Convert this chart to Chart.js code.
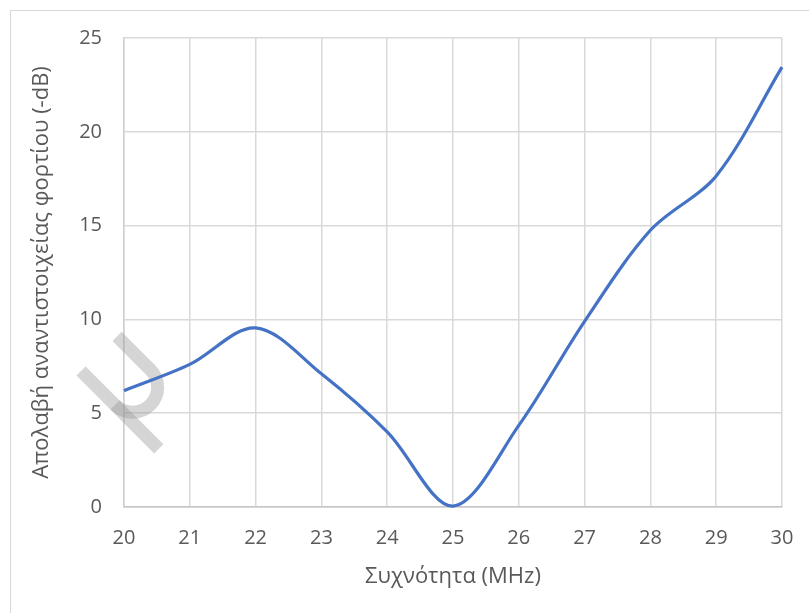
<!DOCTYPE html>
<html>
<head>
<meta charset="utf-8">
<script src="https://cdn.jsdelivr.net/npm/chart.js@4.4.1/dist/chart.umd.min.js"></script>
<style>
  html, body { margin: 0; padding: 0; background: #fff; }
  .frame { position: absolute; left: 10px; top: 10px; width: 840px; height: 640px; border: 1.5px solid #d9d9d9; }
  #chart { position: absolute; left: 0; top: 0; }
</style>
</head>
<body>
<div class="frame"></div>
<canvas id="chart" width="809" height="613"></canvas>
<script>
// frequency sweep (MHz) and measured return loss (-dB)
const freqs = [20, 21, 22, 23, 24, 25, 26, 27, 28, 29, 30];
const returnLoss = [6.2, 7.6, 9.55, 7.1, 4.0, 0.05, 4.35, 9.9, 14.75, 17.65, 23.45];
const xRange = [20, 30];
const yRange = [0, 25];

const textColor = "#595959";
const fontFamily = "'Open Sans', 'Noto Sans', sans-serif";

// faint grey logo stamped behind the curve
const stamp = {
  id: "stamp",
  beforeDatasetsDraw(chart) {
    const ctx = chart.ctx;
    ctx.save();
    ctx.translate(81, 371);
    ctx.rotate(Math.PI / 4);
    ctx.strokeStyle = "rgba(150,150,150,0.4)";
    ctx.lineWidth = 13;
    ctx.lineCap = "butt";
    ctx.beginPath();
    ctx.moveTo(0, 0);
    ctx.lineTo(110, 0);
    ctx.stroke();
    ctx.beginPath();
    ctx.moveTo(1, -50);
    ctx.lineTo(48, -50);
    ctx.arc(48, -25, 25, -Math.PI / 2, Math.PI / 2);
    ctx.stroke();
    ctx.restore();
  }
};

new Chart(document.getElementById("chart"), {
  type: "line",
  data: {
    datasets: [{
      data: freqs.map((f, i) => ({ x: f, y: returnLoss[i] })),
      borderColor: "#4472C4",
      borderWidth: 3.2,
      pointRadius: 0,
      tension: 0.33,
      fill: false,
      clip: false
    }]
  },
  options: {
    responsive: false,
    animation: false,
    layout: { padding: { top: 38, right: 27, left: 0, bottom: 0 } },
    plugins: { legend: { display: false }, tooltip: { enabled: false } },
    scales: {
      x: {
        type: "linear",
        min: xRange[0],
        max: xRange[1],
        afterFit: s => { s.height = 106; s.paddingLeft = 0; s.paddingRight = 0; },
        ticks: { stepSize: 1, color: textColor, padding: 19, font: { family: fontFamily, size: 20 } },
        grid: { color: "#d9d9d9", lineWidth: 1.5, drawTicks: false },
        border: { color: "#c6c6c6", width: 1.5 },
        title: {
          display: true,
          text: "Συχνότητα (MHz)",
          color: textColor,
          font: { family: fontFamily, size: 22 },
          padding: { top: 0, bottom: 23 }
        }
      },
      y: {
        min: yRange[0],
        max: yRange[1],
        afterFit: s => { s.width = 124; s.paddingTop = 0; s.paddingBottom = 0; },
        ticks: { stepSize: 5, color: textColor, padding: 22, font: { family: fontFamily, size: 20 } },
        grid: { color: "#d9d9d9", lineWidth: 1.5, drawTicks: false },
        border: { color: "#d0d0d0", width: 1.5 },
        title: {
          display: true,
          text: "Απολαβή αναντιστοιχείας φορτίου (-dB)",
          color: textColor,
          font: { family: fontFamily, size: 22 },
          padding: { top: 29, bottom: 0 }
        }
      }
    }
  },
  plugins: [stamp]
});
</script>
</body>
</html>
